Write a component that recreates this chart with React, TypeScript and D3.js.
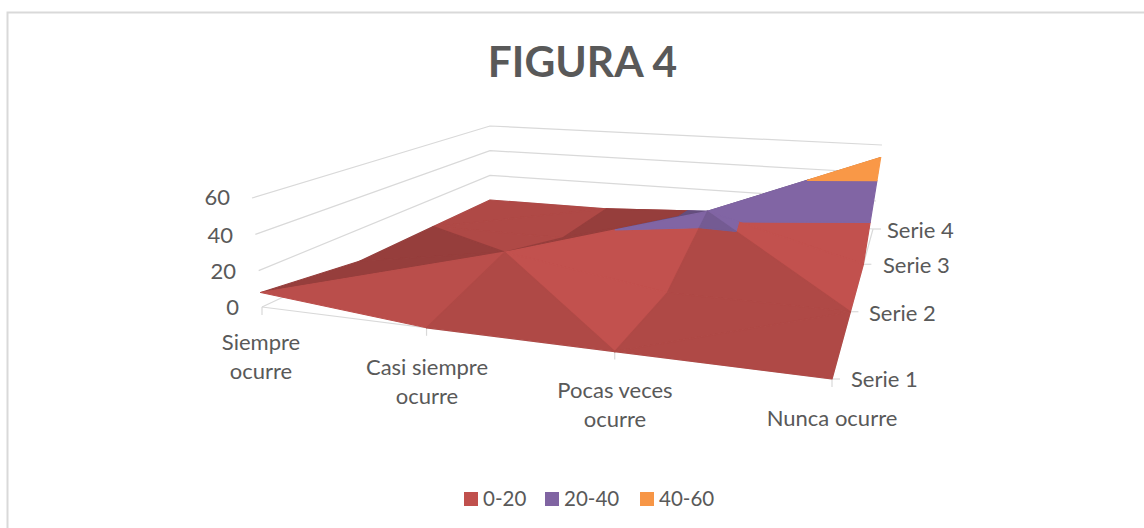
import React from "react";
import * as d3 from "d3";

const categories = ["Siempre ocurre", "Casi siempre ocurre", "Pocas veces ocurre", "Nunca ocurre"];
const seriesNames = ["Serie 1", "Serie 2", "Serie 3", "Serie 4"];
const serie1 = [8, 0, 0, 0];
const serie2 = [0, 14, 0, 0];
const serie3 = [0, 0, 25, 0];
const serie4 = [0, 0, 0, 51];
const valueTicks = [0, 20, 40, 60];
const bands = [
  { label: "0-20", lo: 0, hi: 20, color: [192, 80, 77] },
  { label: "20-40", lo: 20, hi: 40, color: [128, 100, 162] },
  { label: "40-60", lo: 40, hi: 60, color: [247, 150, 70] },
];
const rows = [serie1, serie2, serie3, serie4];

const FONT = "Lato, Carlito, 'Open Sans', sans-serif";
const TEXT = "#595959";
const GRID = "#d9d9d9";

type P = [number, number];
// floor corners in screen space: front-left, front-right, back-right, back-left
const FL: P = [262, 307], FR: P = [832, 379], BR: P = [873, 229], BL: P = [490, 200];

function homography() {
  const [x0, y0] = FL, [x1, y1] = FR, [x2, y2] = BR, [x3, y3] = BL;
  const dx1 = x1 - x2, dx2 = x3 - x2, dx3 = x0 - x1 + x2 - x3;
  const dy1 = y1 - y2, dy2 = y3 - y2, dy3 = y0 - y1 + y2 - y3;
  const den = dx1 * dy2 - dx2 * dy1;
  const g = (dx3 * dy2 - dx2 * dy3) / den;
  const h = (dx1 * dy3 - dx3 * dy1) / den;
  const a = x1 - x0 + g * x1, b = x3 - x0 + h * x3;
  const d = y1 - y0 + g * y1, e = y3 - y0 + h * y3;
  return (u: number, v: number): P => {
    const w = g * u + h * v + 1;
    return [(a * u + b * v + x0) / w, (d * u + e * v + y0) / w];
  };
}
const floor = homography();

const uScale = d3.scaleLinear().domain([0, categories.length - 1]).range([0, 1]);
const vScale = d3.scaleLinear().domain([0, seriesNames.length - 1]).range([0, 1]);
const pxPerUnit = (u: number, v: number) =>
  d3.interpolateNumber(d3.interpolateNumber(109 / 60, 125 / 60)(u), d3.interpolateNumber(74 / 60, 84 / 60)(u))(v);
const leanPerUnit = (u: number, v: number) =>
  d3.interpolateNumber(d3.interpolateNumber(-10 / 60, 12 / 60)(u), d3.interpolateNumber(0, 9 / 60)(u))(v);

function project(i: number, j: number, val: number): P {
  const u = uScale(i), v = vScale(j);
  const [x, y] = floor(u, v);
  return [x + leanPerUnit(u, v) * val, y - pxPerUnit(u, v) * val];
}

type V = { p: P; val: number };
const vert = (i: number, j: number): V => ({ p: project(i, j, rows[j][i]), val: rows[j][i] });

function clipBand(tri: V[], lo: number, hi: number): P[] {
  const clip = (poly: V[], inside: (x: number) => boolean, lim: number) => {
    const out: V[] = [];
    poly.forEach((a, k) => {
      const b = poly[(k + 1) % poly.length];
      const ia = inside(a.val), ib = inside(b.val);
      if (ia) out.push(a);
      if (ia !== ib) {
        const t = (lim - a.val) / (b.val - a.val);
        out.push({ p: [a.p[0] + (b.p[0] - a.p[0]) * t, a.p[1] + (b.p[1] - a.p[1]) * t], val: lim });
      }
    });
    return out;
  };
  let poly = clip(tri, (x) => x >= lo, lo);
  poly = poly.length ? clip(poly, (x) => x <= hi, hi) : poly;
  return poly.map((d) => d.p);
}

const line = d3.line<P>().curve(d3.curveLinearClosed);
const open = d3.line<P>();

type Facet = { d: string; fill: string };
function buildFacets(): Facet[] {
  const facets: Facet[] = [];
  for (let j = seriesNames.length - 2; j >= 0; j--) {
    for (let i = 0; i < categories.length - 1; i++) {
      const a = [i, j], b = [i + 1, j], c = [i + 1, j + 1], e = [i, j + 1];
      const q = [a, b, c, e];
      const vals = q.map(([x, y]) => rows[y][x]);
      const m = vals.indexOf(Math.max(...vals));
      const tris = m % 2 === 0 ? [[a, b, c], [a, c, e]] : [[a, b, e], [b, c, e]];
      tris.sort((t1, t2) => d3.sum(t2, (n) => n[1]) - d3.sum(t1, (n) => n[1]));
      for (const t of tris) {
        const vs = t.map(([x, y]) => vert(x, y));
        const [p, r, s] = t;
        const det = (r[0] - p[0]) * (s[1] - p[1]) - (s[0] - p[0]) * (r[1] - p[1]);
        const dz1 = rows[r[1]][r[0]] - rows[p[1]][p[0]];
        const dz2 = rows[s[1]][s[0]] - rows[p[1]][p[0]];
        const du = (dz1 * (s[1] - p[1]) - dz2 * (r[1] - p[1])) / det;
        const shade = du > 0.01 ? Math.max(0.78, 0.91 - du * 0.012) : du < -10 ? 1.01 : du < -0.01 ? 0.97 : 0.91;
        for (const band of bands) {
          const poly = clipBand(vs, band.lo, band.hi);
          if (poly.length < 3) continue;
          const [cr, cg, cb] = band.color;
          facets.push({
            d: line(poly) as string,
            fill: `rgb(${Math.min(255, cr * shade)},${Math.min(255, cg * shade)},${Math.min(255, cb * shade)})`,
          });
        }
      }
    }
  }
  return facets;
}

const catAnchors: P[] = [[261, 343], [427, 368], [615, 391], [832, 419]];
const catLines = [["Siempre", "ocurre"], ["Casi siempre", "ocurre"], ["Pocas veces", "ocurre"], ["Nunca ocurre"]];
const serieLabelX = [851, 869, 883, 887];
const serieLabelY = [380, 314, 266, 231];
const valueLabelEnd = [239, 236, 233, 230];
const valueLabelY = [308, 272, 236, 198];
const legendSwatchX = [464, 545, 640];

export default function App() {
  const facets = buildFacets();
  const backLeft = valueTicks.map((t) => project(0, 3, t));
  const frontLeft = valueTicks.map((t) => project(0, 0, t));
  const backRight = valueTicks.map((t) => project(3, 3, t));
  return (
    <svg width={1144} height={528} style={{ position: "absolute", left: 0, top: 0, fontFamily: FONT }}>
      <rect x={0} y={0} width={1144} height={528} fill="#fff" />
      <path d="M7.5 528V12.5H1144" fill="none" stroke="#d9d9d9" strokeWidth={2} />
      <text x={582.5} y={77} textAnchor="middle" fontSize={42.5} fontWeight={700} fill={TEXT}>FIGURA 4</text>

      {valueTicks.map((t, k) => (
        <path key={t} d={open([frontLeft[k], backLeft[k], backRight[k]]) as string} fill="none" stroke={GRID} strokeWidth={1.2} />
      ))}
      <path d={open([FL, FR, BR]) as string} fill="none" stroke={GRID} strokeWidth={1.2} />
      {categories.map((c, i) => {
        const p = project(i, 0, 0);
        return <line key={c} x1={p[0]} y1={p[1]} x2={p[0]} y2={p[1] + 8} stroke={GRID} strokeWidth={1.2} />;
      })}
      {seriesNames.map((s, j) => {
        const p = project(3, j, 0);
        return <line key={s} x1={p[0]} y1={p[1]} x2={p[0] + 8} y2={p[1]} stroke={GRID} strokeWidth={1.2} />;
      })}

      <g>
        {facets.map((f, k) => (
          <path key={k} d={f.d} fill={f.fill} stroke={f.fill} strokeWidth={1.2} strokeLinejoin="round" />
        ))}
      </g>

      <g fontSize={22} fill={TEXT}>
        {valueTicks.map((t, k) => (
          <text key={t} x={valueLabelEnd[k]} y={valueLabelY[k] + 7} textAnchor="end">{t}</text>
        ))}
        {catLines.map((ls, i) =>
          ls.map((l, k) => (
            <text key={l} x={catAnchors[i][0]} y={catAnchors[i][1] + 7 + k * 29} textAnchor="middle">{l}</text>
          ))
        )}
        {seriesNames.map((s, j) => (
          <text key={s} x={serieLabelX[j]} y={serieLabelY[j] + 7}>{s}</text>
        ))}
      </g>

      <g fontSize={20.5} fill={TEXT}>
        {bands.map((b, k) => {
          const x = legendSwatchX[k];
          return (
            <g key={b.label}>
              <rect x={x} y={492} width={14} height={14} fill={`rgb(${b.color.join(",")})`} />
              <text x={x + 19} y={506}>{b.label}</text>
            </g>
          );
        })}
      </g>
    </svg>
  );
}
